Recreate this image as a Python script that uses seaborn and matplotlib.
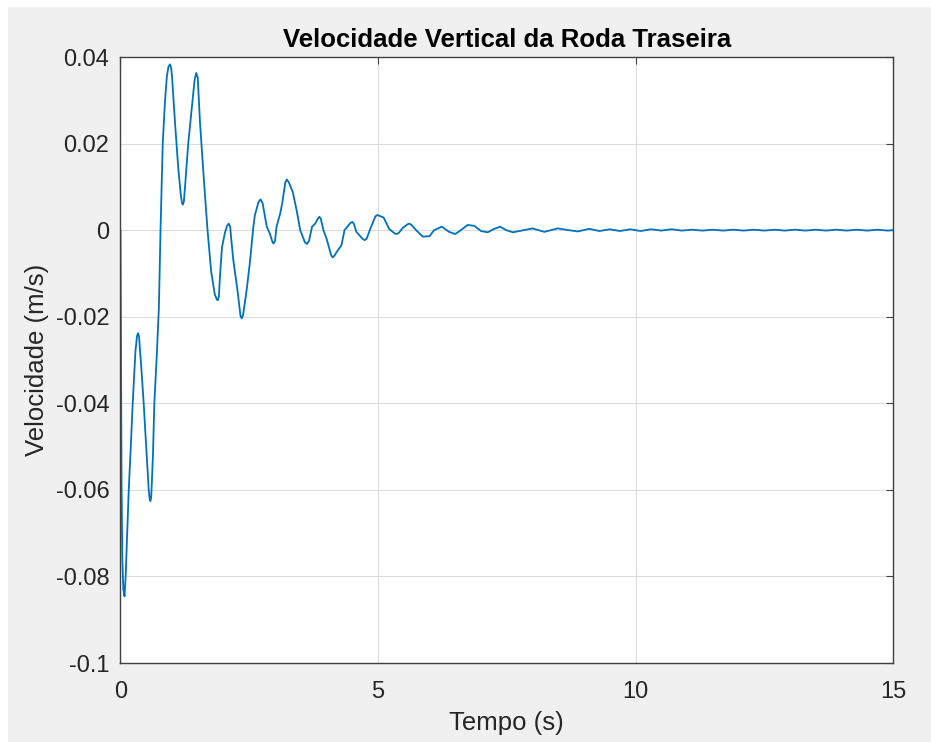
import numpy as np
import pandas as pd
import matplotlib
matplotlib.use("Agg")
import matplotlib.pyplot as plt
import seaborn as sns
from matplotlib.patches import Rectangle
from matplotlib.ticker import FixedLocator, FuncFormatter

# ---- data ----
tempo = [0, 0.01, 0.02, 0.035, 0.055, 0.078, 0.10, 0.13, 0.16, 0.20, 0.237, 0.29, 0.32, 0.34, 0.36, 0.38,
         0.40, 0.45, 0.50, 0.548, 0.565, 0.58, 0.595, 0.61, 0.63, 0.657, 0.70, 0.745, 0.777, 0.82, 0.865, 0.90,
         0.93, 0.96, 0.985, 1.0, 1.06, 1.12, 1.17, 1.195, 1.21, 1.23, 1.25, 1.315, 1.40, 1.44, 1.47, 1.50,
         1.545, 1.62, 1.69, 1.76, 1.83, 1.87, 1.89, 1.91, 1.93, 1.97, 2.03, 2.07, 2.10, 2.13, 2.15, 2.19,
         2.27, 2.33, 2.355, 2.38, 2.45, 2.51, 2.58, 2.61, 2.68, 2.72, 2.76, 2.84, 2.90, 2.95, 2.97, 3.0,
         3.03, 3.10, 3.14, 3.20, 3.23, 3.27, 3.345, 3.42, 3.49, 3.58, 3.62, 3.66, 3.72,
         3.78, 3.83, 3.86, 3.89, 3.94, 4.0, 4.09, 4.12, 4.16, 4.20, 4.29, 4.35, 4.46, 4.50, 4.53, 4.58, 4.70,
         4.74, 4.78, 4.84, 4.95, 4.99, 5.11, 5.22, 5.33, 5.36, 5.40, 5.48, 5.58, 5.61, 5.65, 5.74, 5.87,
         6.0, 6.09, 6.24, 6.38, 6.5, 6.61, 6.74, 6.87, 7.0, 7.13, 7.24, 7.37, 7.49, 7.62, 7.75, 8.0, 8.23,
         8.49, 8.7, 8.88, 9.1, 9.3, 9.5, 9.7, 9.9, 10.1, 10.3, 10.5, 10.7, 10.9, 11.1, 11.3, 11.5, 11.7,
         11.9, 12.1, 12.3, 12.5, 12.7, 12.9, 13.1, 13.3, 13.5, 13.7, 13.9, 14.1, 14.3, 14.5, 14.7, 14.9, 15.0]
velocidade = [0, -0.030, -0.058, -0.076, -0.083, -0.0846, -0.080, -0.070, -0.060, -0.050, -0.040,
              -0.028, -0.0245, -0.0238, -0.0245, -0.028, -0.031, -0.040, -0.050, -0.060, -0.0620,
              -0.0626, -0.0618, -0.058, -0.052, -0.040, -0.030, -0.018, 0.0, 0.020, 0.030, 0.0355,
              0.0377, 0.0383, 0.0374, 0.0355, 0.0246, 0.0146, 0.0082, 0.0062, 0.0059, 0.0066, 0.0095,
              0.020, 0.030, 0.0348, 0.0363, 0.0352, 0.0246, 0.0115, 0.0, -0.0095, -0.0148, -0.0160,
              -0.0162, -0.0153, -0.011, -0.004, -0.0005, 0.0010, 0.0015, 0.0008, -0.002, -0.0069,
              -0.0138, -0.0198, -0.0204, -0.0196, -0.0138, -0.0077, 0.0008, 0.0035, 0.0065, 0.0071,
              0.0062, 0.0008, -0.0008, -0.0027, -0.0031, -0.0025, 0.0008, 0.0038, 0.0062, 0.0110,
              0.0117, 0.0110, 0.0088, 0.0046, 0.0, -0.0028, -0.0032, -0.0025, 0.0008, 0.0015, 0.0026,
              0.0031, 0.0026, 0.0, -0.0019, -0.0058, -0.0063, -0.0058, -0.0050, -0.0035, 0.0, 0.0016,
              0.0019, 0.0015, -0.0004, -0.0020, -0.0023, -0.0020, 0.0, 0.0032, 0.0035, 0.0029, 0.0002,
              -0.0008, -0.0009, -0.0007, 0.0005, 0.0014, 0.0015, 0.0012, 0.0, -0.0015, -0.0014, 0.0,
              0.0008, -0.0004, -0.0009, 0.0, 0.0012, 0.0010, -0.0002, -0.0005, 0.0002, 0.0008, 0.0,
              -0.0005, -0.0002, 0.0004, -0.0004, 0.0004, 0.0, -0.0003, 0.0003, -0.0002, 0.0002,
              -0.0002, 0.0002, -0.0002, 0.0002, -0.0001, 0.0002, -0.0001, 0.0001, -0.0001, 0.0001,
              -0.0001, 0.0001, -0.0001, 0.0001, -0.0001, 0.0001, -0.0001, 0.0001, -0.0001, 0.0001,
              -0.0001, 0.0001, -0.0001, 0.0001, -0.0001, 0.0001, -0.0001, 0.0]
x_ticks = [0, 5, 10, 15]
y_ticks = [-0.1, -0.08, -0.06, -0.04, -0.02, 0, 0.02, 0.04]
titulo = "Velocidade Vertical da Roda Traseira"
x_label = "Tempo (s)"
y_label = "Velocidade (m/s)"

df = pd.DataFrame({"t": tempo, "v": velocidade})

sns.set_theme(style="white")
plt.rcParams["font.family"] = ["Liberation Sans", "DejaVu Sans"]
plt.rcParams["axes.unicode_minus"] = False

W, H = 931, 742
fig = plt.figure(figsize=(W / 100, H / 100), dpi=100, facecolor="white")
fig.patches.append(Rectangle((8 / W, 0), 1 - 8 / W, 1 - 7 / H, transform=fig.transFigure,
                             facecolor="#F0F0F0", edgecolor="none", zorder=-10))
ax = fig.add_axes([120.5 / W, 1 - 663 / H, (893 - 120.5) / W, (663 - 57) / H])
ax.set_facecolor("white")

sns.lineplot(data=df, x="t", y="v", ax=ax, color="#0072BD", linewidth=1.3, sort=False)

ax.set_xlim(0, 15)
ax.set_ylim(-0.1, 0.04)
ax.xaxis.set_major_locator(FixedLocator(x_ticks))
ax.yaxis.set_major_locator(FixedLocator(y_ticks))
ax.yaxis.set_major_formatter(FuncFormatter(lambda v, p: "%g" % round(v, 4)))
ax.xaxis.set_major_formatter(FuncFormatter(lambda v, p: "%g" % v))
ax.grid(True, color="#DCDCDC", linewidth=0.8)
ax.set_axisbelow(True)
for s in ax.spines.values():
    s.set_visible(True)
    s.set_color("#404040")
    s.set_linewidth(1.0)
ax.tick_params(axis="both", direction="in", length=5, width=0.8, color="#404040",
               labelsize=17, labelcolor="#262626", top=True, right=True)
ax.tick_params(axis="y", pad=8)
ax.tick_params(axis="x", pad=13)
ax.set_title(titulo, fontsize=18.5, fontweight="bold", color="black", pad=7)
ax.set_xlabel(x_label, fontsize=18.5, color="#262626", labelpad=6)
ax.set_ylabel(y_label, fontsize=18.5, color="#262626", labelpad=5)

fig.savefig("out.png", dpi=100, facecolor=fig.get_facecolor())
